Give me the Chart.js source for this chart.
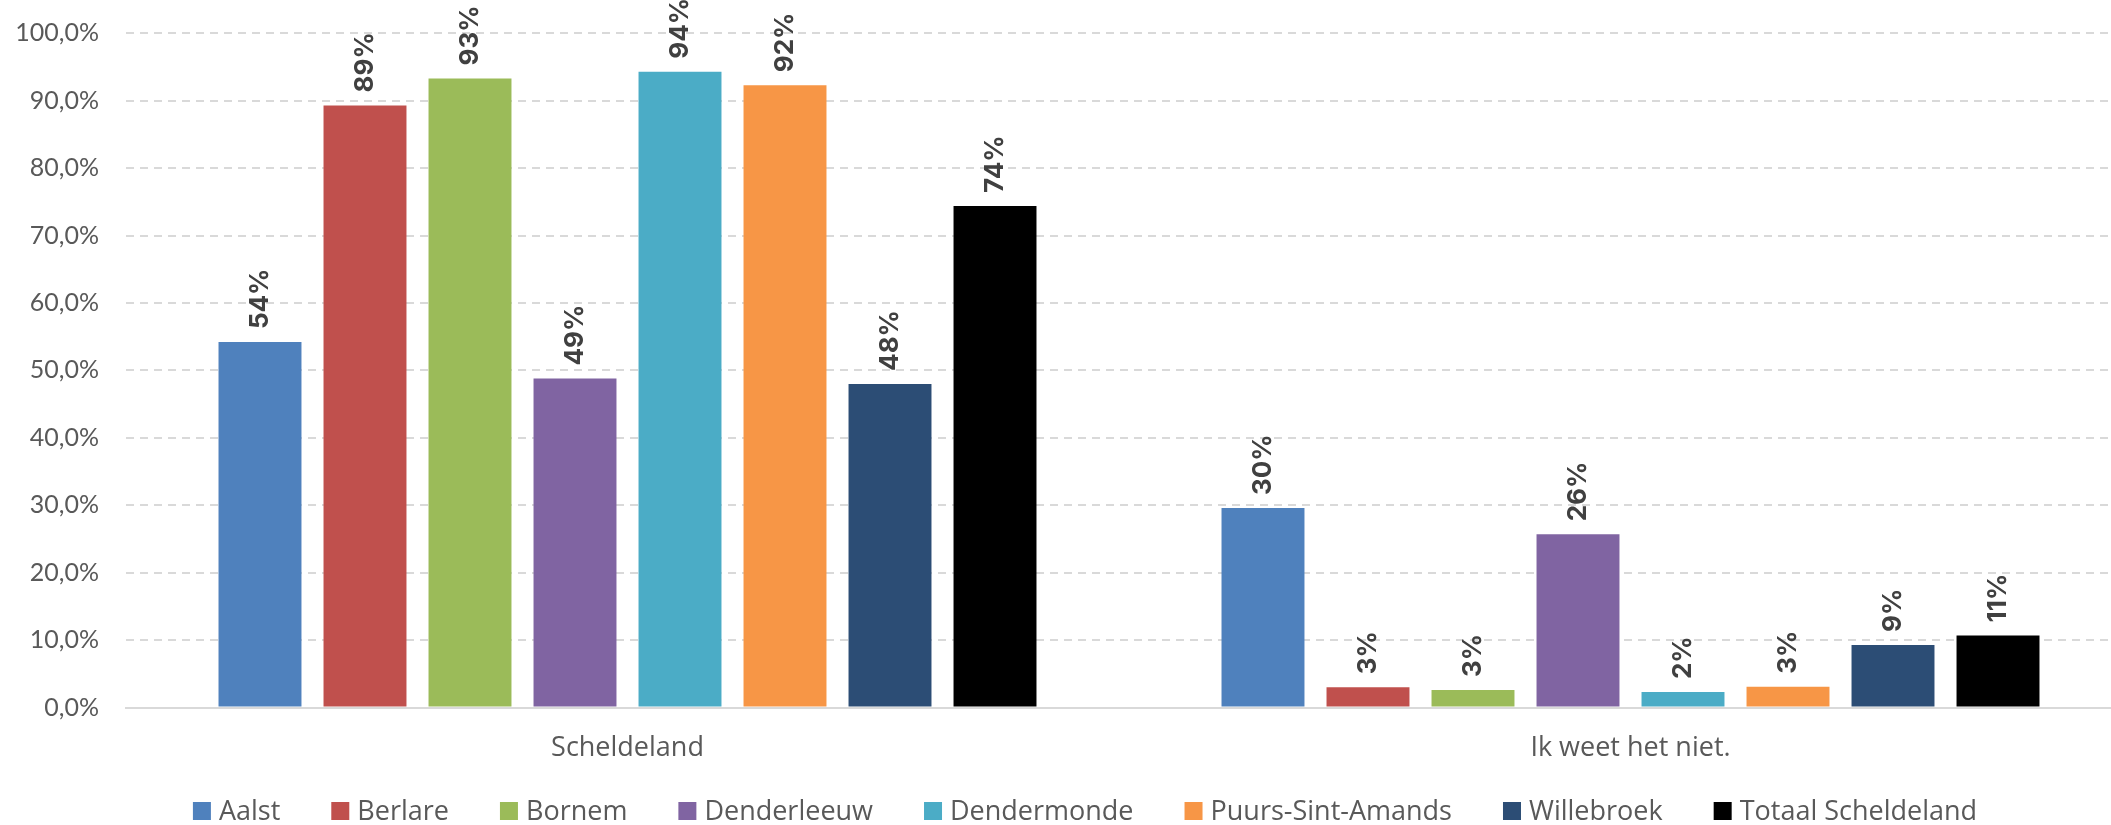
<!DOCTYPE html>
<html>
<head>
<meta charset="utf-8">
<script src="https://cdn.jsdelivr.net/npm/chart.js@4/dist/chart.umd.min.js"></script>
<style>
  html, body { margin: 0; padding: 0; background: #fff; overflow: hidden; }
  #wrap { width: 2132px; height: 825px; }
</style>
</head>
<body>
<div id="wrap"><canvas id="chart"></canvas></div>
<script>
// categorieen
const categories = ['Scheldeland', 'Ik weet het niet.'];

// gemeenten (legend)
const gemeenten = ['Aalst', 'Berlare', 'Bornem', 'Denderleeuw', 'Dendermonde', 'Puurs-Sint-Amands', 'Willebroek', 'Totaal Scheldeland'];
const kleuren   = ['#4f81bd', '#c0504d', '#9bbb59', '#8064a2', '#4bacc6', '#f79646', '#2c4d75', '#000000'];

// waarden in %, [Scheldeland, Ik weet het niet.]
const aalst          = [54.2, 29.6];
const berlare        = [89.3, 3.0];
const bornem         = [93.3, 2.6];
const denderleeuw    = [48.8, 25.7];
const dendermonde    = [94.3, 2.3];
const puurs          = [92.3, 3.1];
const willebroek     = [48.0, 9.3];
const totaal         = [74.4, 10.7];
const waarden = [aalst, berlare, bornem, denderleeuw, dendermonde, puurs, willebroek, totaal];

// y-as
const yMin = 0, yMax = 100, yStep = 10;

const grey = '#595959';

// labels boven de balken, 90 graden gedraaid
const barLabels = {
    id: 'barLabels',
    afterDatasetsDraw(chart) {
        const ctx = chart.ctx;
        ctx.save();
        ctx.font = 'bold 26px Inter';
        ctx.fillStyle = '#404040';
        ctx.textAlign = 'left';
        ctx.textBaseline = 'middle';
        chart.data.datasets.forEach((ds, i) => {
            chart.getDatasetMeta(i).data.forEach((bar, j) => {
                ctx.save();
                ctx.translate(bar.x, bar.y - 13);
                ctx.rotate(-Math.PI / 2);
                ctx.fillText(Math.round(ds.data[j]) + '%', 0, 0);
                ctx.restore();
            });
        });
        ctx.restore();
    }
};

// legende onderaan
const bottomLegend = {
    id: 'bottomLegend',
    afterDraw(chart) {
        const ctx = chart.ctx;
        const box = 18, gapText = 8, gapItem = 51;
        ctx.save();
        ctx.font = '27px "Open Sans"';
        ctx.textBaseline = 'middle';
        ctx.textAlign = 'left';
        const items = chart.data.datasets.map(ds => ({
            text: ds.label,
            color: ds.backgroundColor,
            w: ctx.measureText(ds.label).width
        }));
        const total = items.reduce((s, it) => s + box + gapText + it.w, 0) + gapItem * (items.length - 1);
        let x = 1085 - total / 2;
        const y = chart.height - 14;
        items.forEach(it => {
            ctx.fillStyle = it.color;
            ctx.fillRect(x, y - box / 2, box, box);
            ctx.fillStyle = grey;
            ctx.fillText(it.text, x + box + gapText, y + 1);
            x += box + gapText + it.w + gapItem;
        });
        ctx.restore();
    }
};

const datasets = gemeenten.map((g, i) => ({
    label: g,
    data: waarden[i],
    backgroundColor: kleuren[i],
    borderWidth: 0,
    categoryPercentage: 0.8375,
    barPercentage: 0.79
}));

new Chart(document.getElementById('chart'), {
    type: 'bar',
    data: { labels: categories, datasets: datasets },
    options: {
        responsive: true,
        maintainAspectRatio: false,
        animation: false,
        layout: { padding: { top: 33, bottom: 43, left: 0, right: 0 } },
        plugins: {
            legend: { display: false },
            tooltip: { enabled: false }
        },
        scales: {
            x: {
                grid: { display: false },
                border: { display: true, color: '#d9d9d9', width: 2 },
                ticks: { color: grey, font: { family: 'Open Sans', size: 27 }, padding: 17 }
            },
            y: {
                min: yMin,
                max: yMax,
                afterFit: s => { s.width = 126; },
                grid: { color: '#d9d9d9', lineWidth: 2, drawTicks: false },
                border: { display: false, dash: [8, 6] },
                ticks: {
                    stepSize: yStep,
                    color: grey,
                    padding: 27,
                    font: { family: 'Lato', size: 25, lineHeight: 0.5 },
                    callback: v => v.toFixed(1).replace('.', ',') + '%'
                }
            }
        }
    },
    plugins: [barLabels, bottomLegend]
});
</script>
</body>
</html>
